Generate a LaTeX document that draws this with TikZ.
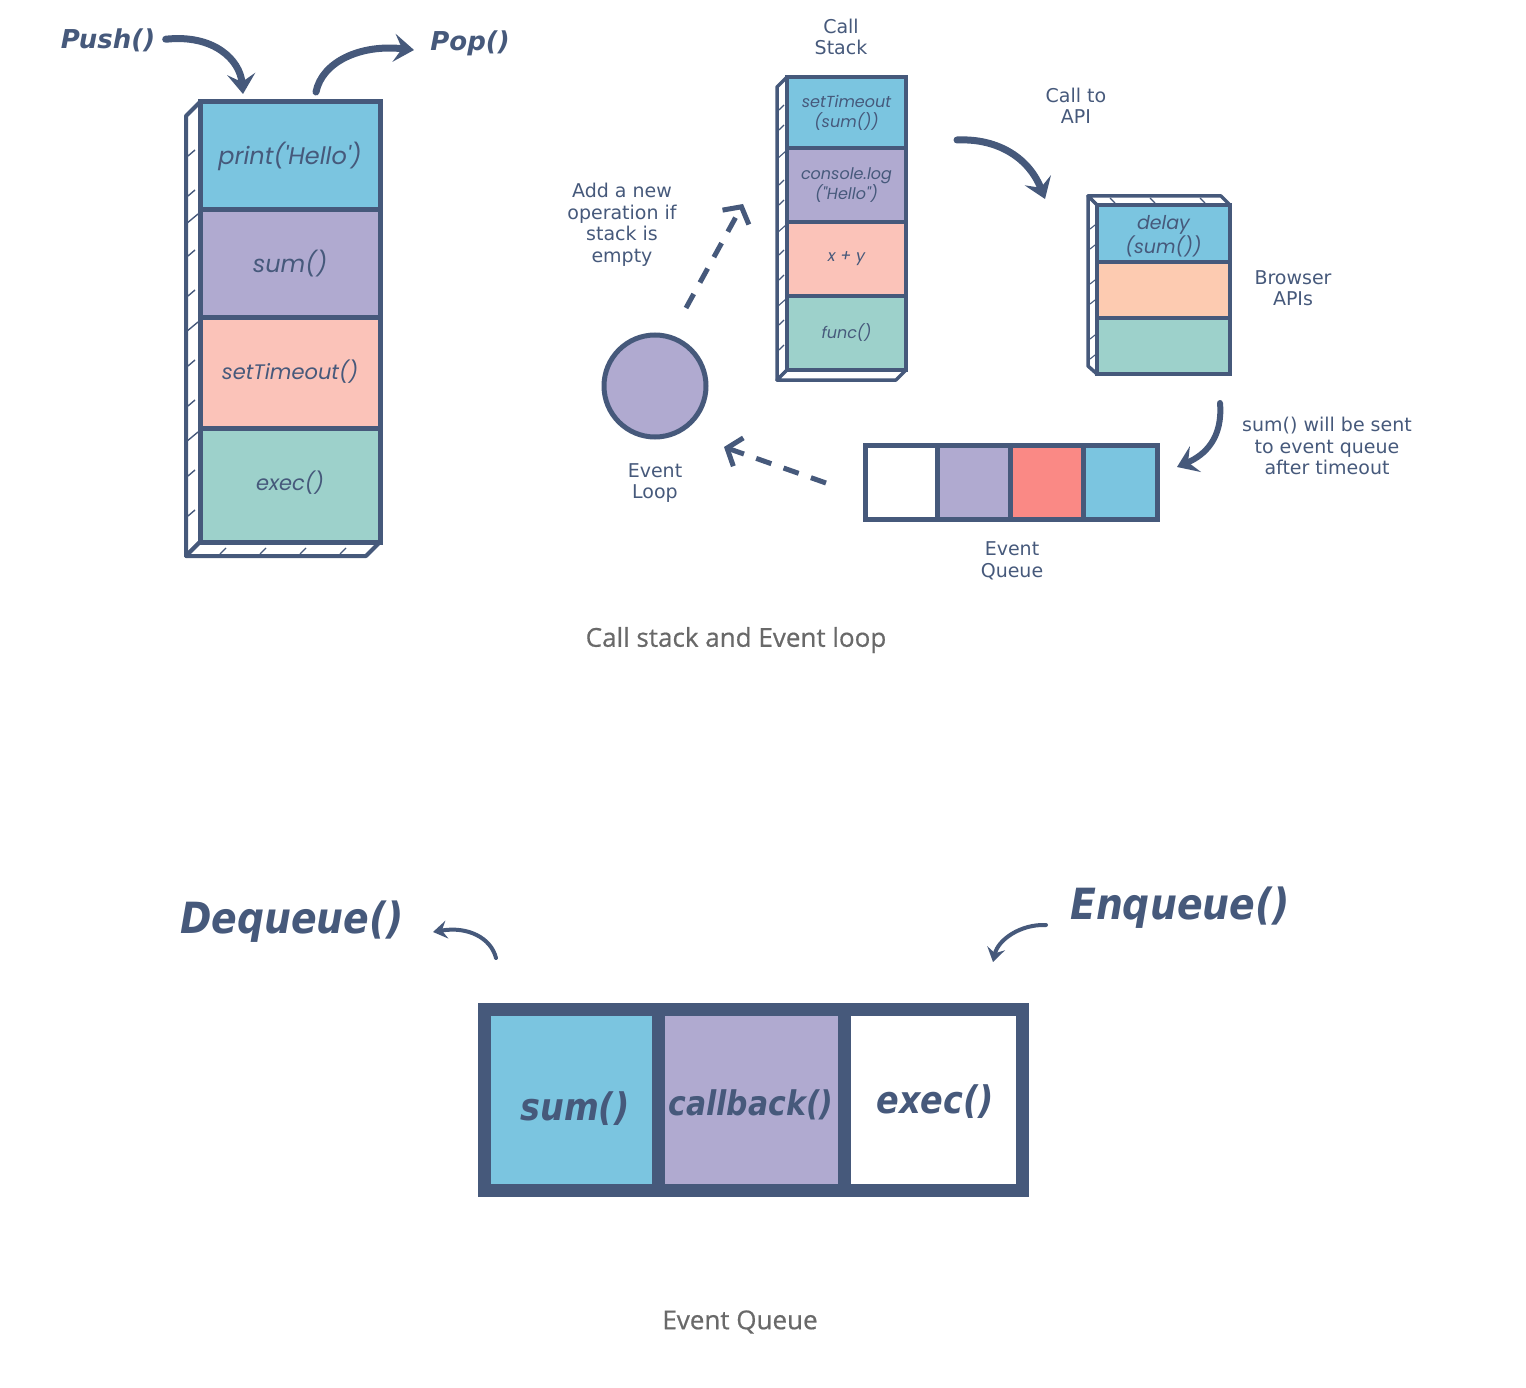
\documentclass[tikz,border=0pt]{standalone}
\usepackage{fontspec}
\setmainfont{DejaVu Sans}
\newfontfamily\cellf{Poppins}
\newfontfamily\capf{Open Sans}[FakeBold=0.6]
\newfontfamily\condf{DejaVu Sans}[FakeStretch=0.88]
\usetikzlibrary{arrows.meta}
\definecolor{navy}{HTML}{46597B}
\definecolor{cblue}{HTML}{7BC5E0}
\definecolor{cpurple}{HTML}{B0AAD0}
\definecolor{cpink}{HTML}{FBC3B9}
\definecolor{cteal}{HTML}{9DD1CB}
\definecolor{cpeach}{HTML}{FDCBB1}
\definecolor{csalmon}{HTML}{FA8985}
\definecolor{capgray}{HTML}{696969}
\begin{document}
\begin{tikzpicture}[x=1pt,y=-1pt,
 cell/.style={draw=navy, line width=5pt, anchor=north west, inner sep=0pt, outer sep=0pt, align=center, text=navy, font=\cellf\itshape\fontsize{24}{28}\selectfont},
 smallcell/.style={cell, line width=4pt, font=\cellf\itshape\fontsize{16}{20}\selectfont},
 qcell/.style={draw=navy, line width=13pt, anchor=north west, inner sep=0pt, outer sep=0pt},
 qtext/.style={text=navy, inner sep=0pt, font=\condf\bfseries\itshape\fontsize{38}{40}\selectfont},
 face/.style={draw=navy, line width=4pt, fill=white, line join=round},
 tick/.style={draw=navy, line width=1.4pt},
 lbl/.style={text=navy, align=center, font=\fontsize{19}{21.5}\selectfont},
 captext/.style={text=capgray, font=\capf\fontsize{26}{30}\selectfont},
 bigarrow/.style={draw=navy, line width=7pt, line cap=round, -{Stealth[length=20pt,width=28pt,inset=8pt]}},
 thinarrow/.style={draw=navy, line width=4pt, line cap=round, -{Stealth[length=14pt,width=18pt,inset=5pt]}},
 dasharrow/.style={draw=navy, line width=5pt, dash pattern=on 16pt off 13pt, -{Straight Barb[length=12pt,width=30pt,line width=5pt]}},
]
\useasboundingbox (0,0) rectangle (1526,1388);

% ---------- left stack ----------
\draw[face] (200,102)--(186,116)--(186,556)--(200,542)--cycle;
\draw[face] (200,542)--(380,542)--(366,556)--(186,556)--cycle;
\foreach \y in {150,190,250,290,360,400,470,510} \draw[tick] (188,\y+6)--(195,\y);
\foreach \y in {222,330,440} \draw[tick] (186,\y+2)--(198,\y-8);
\foreach \x in {220,260,300,340} \draw[tick] (\x,554)--(\x+6,548);
\node[cell, fill=cblue,   minimum width=180pt, minimum height=108pt, text depth=6pt] (s1) at (200,102) {print('Hello')};
\node[cell, fill=cpurple, minimum width=180pt, minimum height=108pt] (s2) at (200,210) {sum()};
\node[cell, fill=cpink,   minimum width=180pt, minimum height=110pt, text depth=7pt, font=\cellf\itshape\fontsize{21}{26}\selectfont] (s3) at (200,318) {setTimeout()};
\node[cell, fill=cteal,   minimum width=180pt, minimum height=114pt, text depth=8pt, font=\cellf\itshape\fontsize{21}{26}\selectfont] (s4) at (200,428) {exec()};

\node[text=navy, font=\bfseries\itshape\fontsize{26}{28}\selectfont] (push) at (108,40) {Push()};
\node[text=navy, font=\bfseries\itshape\fontsize{26}{28}\selectfont] (pop) at (470,43) {Pop()};
\coordinate (pushend) at (243,94);
\coordinate (popstart) at (316,92);
\coordinate (popend) at (414,50);
\draw[bigarrow, shorten <=7pt] (push.east) .. controls (214,34) and (240,60) .. (pushend);
\draw[bigarrow] (popstart) .. controls (322,62) and (360,44) .. (popend);

% ---------- call stack ----------
\node[lbl] (cslbl) at (841,37) {Call\\Stack};
\draw[face, line width=3.5pt] (787,77)--(777,87)--(777,380)--(787,370)--cycle;
\draw[face, line width=3.5pt] (787,370)--(906,370)--(896,380)--(777,380)--cycle;
\foreach \y in {105,125,180,200,250,275,320,345} \draw[tick, line width=1.1pt] (779,\y+5)--(784,\y);
\foreach \y in {157,231,305} \draw[tick, line width=1.1pt] (777,\y+2)--(786,\y-6);
\node[smallcell, fill=cblue,   minimum width=119pt, minimum height=71pt] (c1) at (787,77) {setTimeout\\(sum())};
\node[smallcell, fill=cpurple, minimum width=119pt, minimum height=74pt] (c2) at (787,148) {console.log\\("Hello")};
\node[smallcell, fill=cpink,   minimum width=119pt, minimum height=74pt] (c3) at (787,222) {x + y};
\node[smallcell, fill=cteal,   minimum width=119pt, minimum height=74pt] (c4) at (787,296) {func()};

% ---------- browser APIs ----------
\node[lbl] (apilbl) at (1076,106) {Call to\\API};
\draw[face, line width=3.5pt] (1097,205)--(1088,196)--(1221,196)--(1230,205)--cycle;
\draw[face, line width=3.5pt] (1097,205)--(1088,196)--(1088,366)--(1097,374)--cycle;
\foreach \y in {225,245,280,300,335,355} \draw[tick, line width=1.1pt] (1090,\y+4)--(1095,\y);
\foreach \x in {1110,1150,1200} \draw[tick, line width=1.1pt] (\x,198)--(\x+5,203);
\node[smallcell, fill=cblue,  minimum width=133pt, minimum height=57pt] (b1) at (1097,205) {};
\node[smallcell, fill=cpeach, minimum width=133pt, minimum height=56pt] (b2) at (1097,262) {};
\node[smallcell, fill=cteal,  minimum width=133pt, minimum height=56pt] (b3) at (1097,318) {};
\node[text=navy, align=center, inner sep=0pt, font=\cellf\itshape\fontsize{19}{21}\selectfont] (b1t) at ([yshift=-3pt]b1.center) {delay\\(sum())};
\node[lbl] (brlbl) at (1293,288) {Browser\\APIs};
\coordinate (apistart) at (957,140);
\coordinate (apiend) at (1045,199);
\draw[bigarrow] (apistart) .. controls (1000,138) and (1030,160) .. (apiend);

% ---------- event queue (top) ----------
\node[cell, fill=white,   minimum width=72pt, minimum height=74pt] (q1) at (865,445) {};
\node[cell, fill=cpurple, minimum width=73pt, minimum height=74pt] (q2) at (937,445) {};
\node[cell, fill=csalmon, minimum width=73pt, minimum height=74pt] (q3) at (1010,445) {};
\node[cell, fill=cblue,   minimum width=74pt, minimum height=74pt] (q4) at (1083,445) {};
\node[lbl] (eqlbl) at (1012,561) {Event\\Queue};
\node[lbl] (sentlbl) at (1327,446) {sum() will be sent\\to event queue\\after timeout};
\coordinate (sentstart) at (1220,403);
\coordinate (sentend) at (1177,467);
\draw[bigarrow, line width=6pt] (sentstart) .. controls (1223,438) and (1205,455) .. (sentend);

% ---------- event loop ----------
\node[circle, draw=navy, line width=5pt, fill=cpurple, minimum size=102pt] (loop) at (655,386) {};
\node[lbl] (looplbl) at (655,483) {Event\\Loop};
\node[lbl] (addlbl) at (622,225) {Add a new\\operation if\\stack is\\empty};
\coordinate (d1s) at (686,308);
\coordinate (d1e) at (743,204);
\coordinate (d2s) at (826,483);
\coordinate (d2e) at (724,447);
\draw[dasharrow] (d1s) -- (d1e);
\draw[dasharrow] (d2s) -- (d2e);

\node[captext] (cap1) at (736,640) {Call stack and Event loop};

% ---------- event queue (bottom) ----------
\node[qcell, fill=cblue,   minimum width=174pt, minimum height=181pt] (e1) at (484,1009) {};
\node[qcell, fill=cpurple, minimum width=186pt, minimum height=181pt] (e2) at (658,1009) {};
\node[qcell, fill=white,   minimum width=178pt, minimum height=181pt] (e3) at (844,1009) {};
\node[qtext] (e1t) at ([xshift=4pt,yshift=-9pt]e1.center) {sum()};
\node[qtext, font=\condf\bfseries\itshape\fontsize{34}{36}\selectfont] (e2t) at ([yshift=-5pt]e2.center) {callback()};
\node[qtext] (e3t) at ([xshift=2pt,yshift=-2pt]e3.center) {exec()};
\node[text=navy, font=\condf\bfseries\itshape\fontsize{43}{46}\selectfont] (deq) at (292,922) {Dequeue()};
\node[text=navy, font=\condf\bfseries\itshape\fontsize{43}{46}\selectfont] (enq) at (1180,908) {Enqueue()};
\coordinate (deqs) at (496,958);
\coordinate (deqe) at (433,932);
\coordinate (enqs) at (1046,925);
\coordinate (enqe) at (993,962);
\draw[thinarrow] (deqs) .. controls (491,938) and (468,926) .. (deqe);
\draw[thinarrow] (enqs) .. controls (1020,924) and (998,940) .. (enqe);

\node[captext] (cap2) at (740,1322) {Event Queue};
\end{tikzpicture}
\end{document}
